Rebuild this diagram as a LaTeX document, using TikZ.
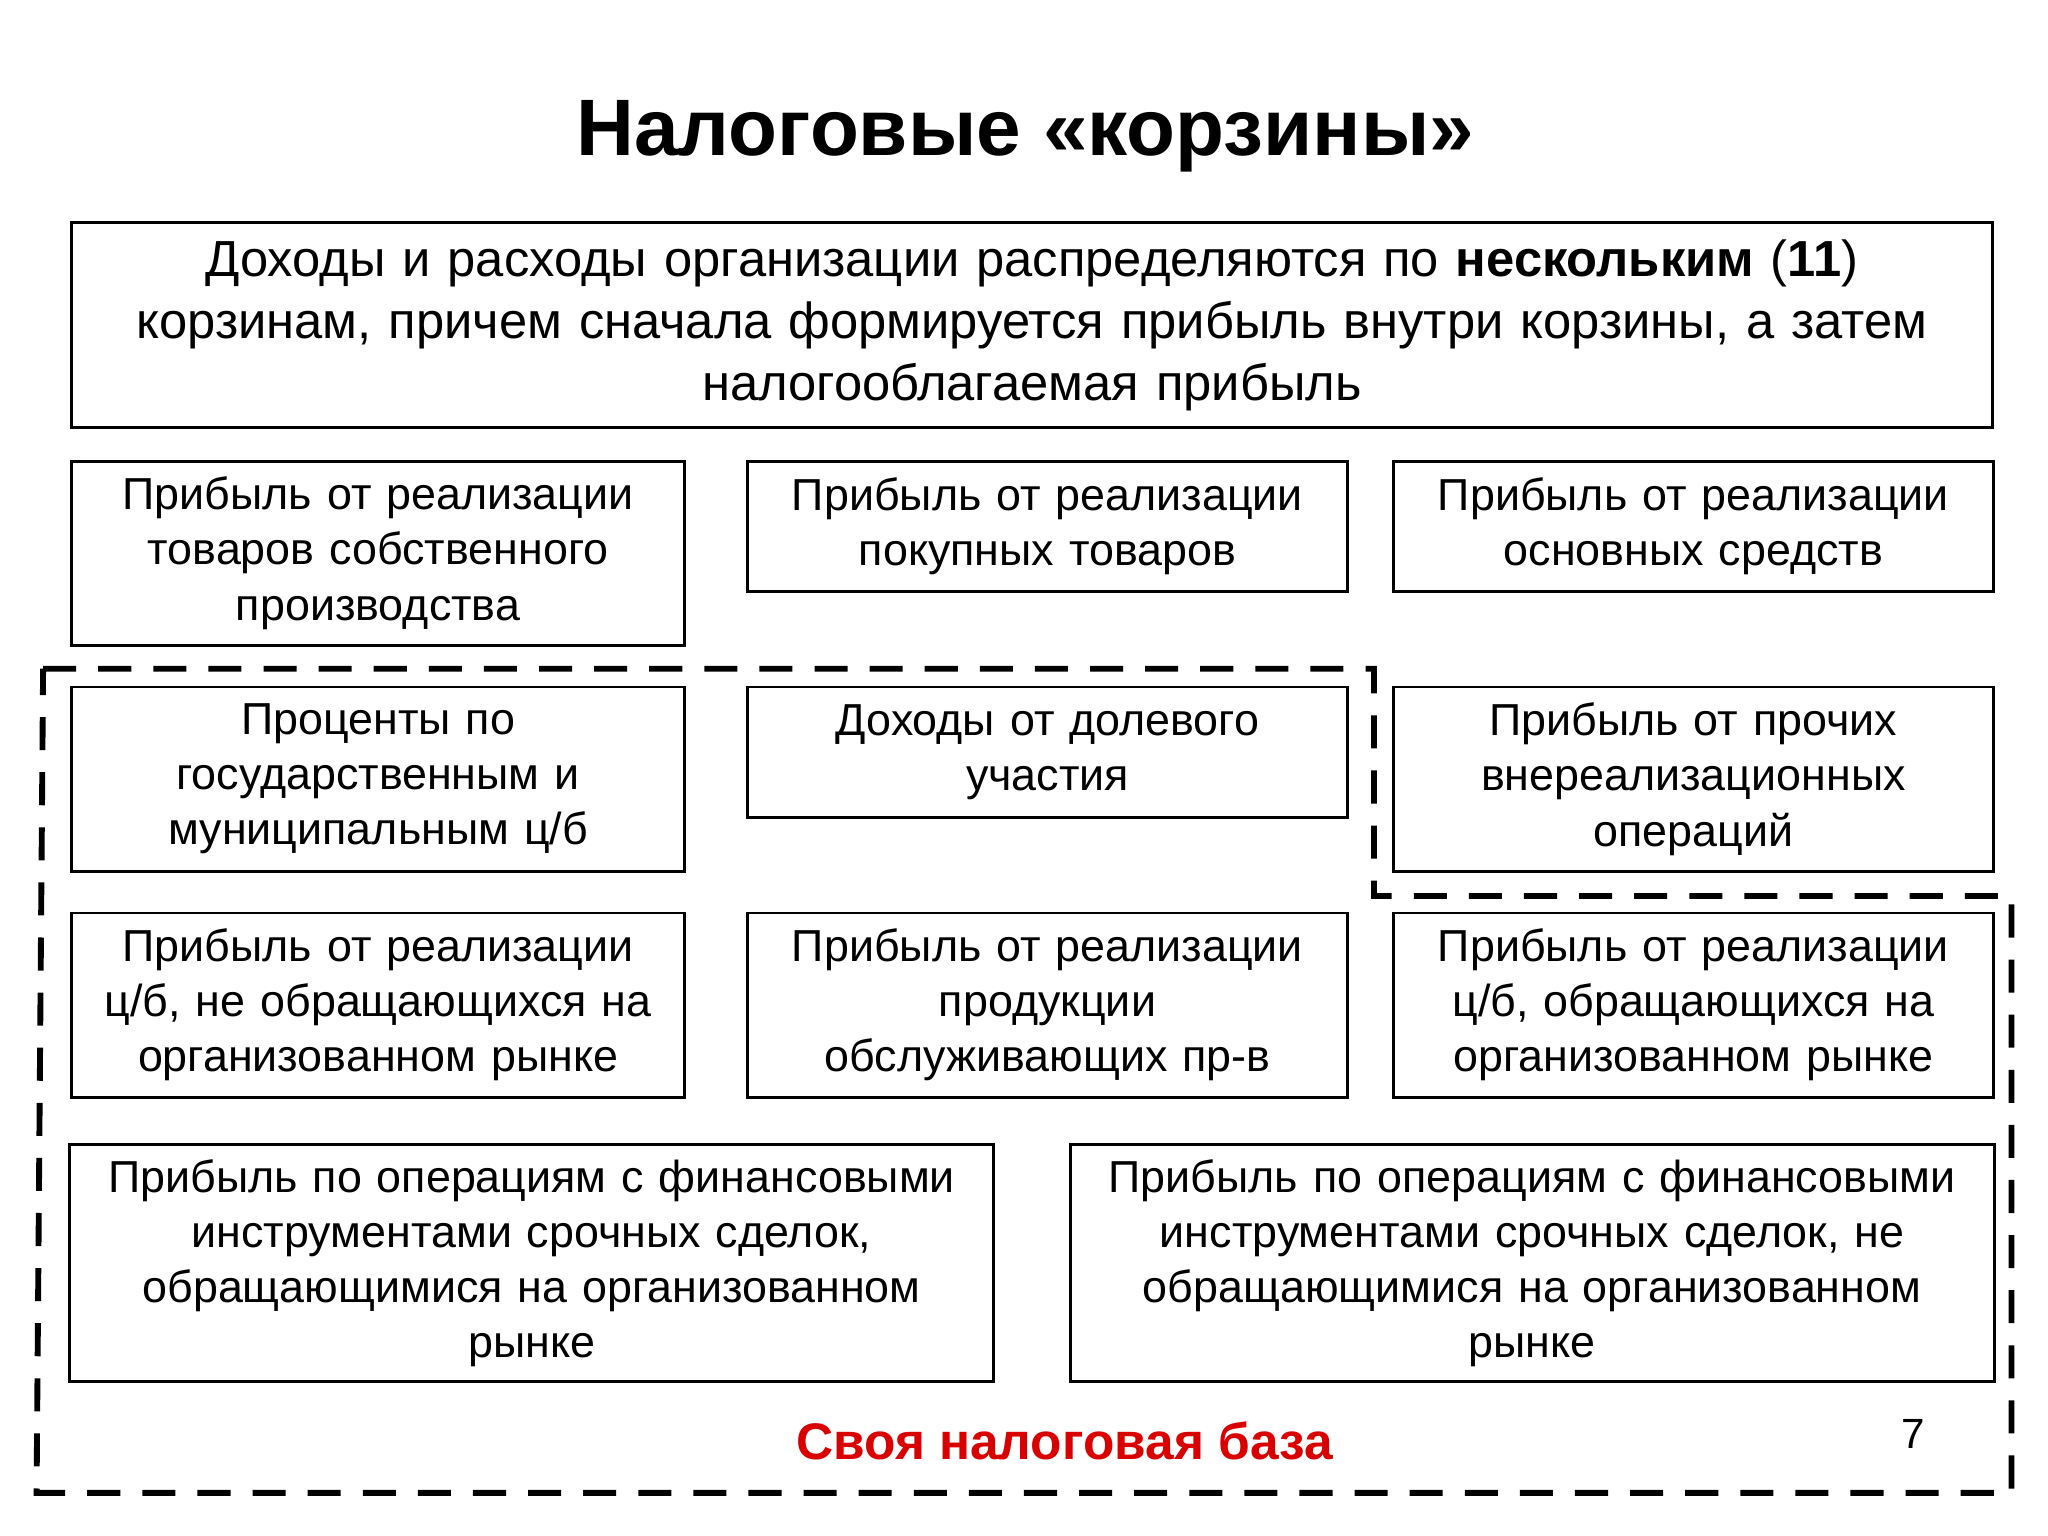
\documentclass[tikz,border=0pt]{standalone}
\usepackage{fontspec}
\setmainfont{Liberation Sans}
\begin{document}
\begin{tikzpicture}[x=0.0125cm,y=-0.0125cm,
  box/.style={draw,line width=0.8pt,align=center,inner sep=2pt,font=\fontsize{12.2}{15}\selectfont},
  ]
\useasboundingbox (0,0) rectangle (1568,1176);
\node[font=\fontsize{21.8}{25}\selectfont\bfseries] (title) at (785,104) {Налоговые «корзины»};
\node[box,minimum width=18.375cm,minimum height=1.9625cm,text width=18.2cm,font=\fontsize{13.8}{16.8}\selectfont] (top) at (790,249)
 {Доходы и расходы организации распределяются по \textbf{нескольким} (\textbf{11})\\корзинам, причем сначала формируется прибыль внутри корзины, а затем\\налогооблагаемая прибыль};
\node[box,minimum width=5.8625cm,minimum height=1.7625cm,text width=5.7cm] (a) at (289.5,423.5) {Прибыль от реализации\\товаров собственного\\производства};
\node[box,minimum width=5.7cm,minimum height=1.25cm,text width=5.6cm] (b) at (802,403) {Прибыль от реализации\\покупных товаров};
\node[box,minimum width=5.7125cm,minimum height=1.25cm,text width=5.6cm] (c) at (1296.5,403) {Прибыль от реализации\\основных средств};
\node[box,minimum width=5.8625cm,minimum height=1.7625cm,text width=5.7cm] (d) at (289.5,596.5) {Проценты по\\государственным и\\муниципальным ц/б};
\node[box,minimum width=5.7cm,minimum height=1.25cm,text width=5.6cm] (e) at (802,576) {Доходы от долевого\\участия};
\node[box,minimum width=5.7125cm,minimum height=1.7625cm,text width=5.6cm] (f) at (1296.5,596.5) {Прибыль от прочих\\внереализационных\\операций};
\node[box,minimum width=5.8625cm,minimum height=1.7625cm,text width=5.7cm] (g) at (289.5,769.5) {Прибыль от реализации\\ц/б, не обращающихся на\\организованном рынке};
\node[box,minimum width=5.7cm,minimum height=1.7625cm,text width=5.6cm] (h) at (802,769.5) {Прибыль от реализации\\продукции\\обслуживающих пр-в};
\node[box,minimum width=5.7125cm,minimum height=1.7625cm,text width=5.6cm] (i) at (1296.5,769.5) {Прибыль от реализации\\ц/б, обращающихся на\\организованном рынке};
\node[box,minimum width=8.8cm,minimum height=2.275cm,text width=8.7cm] (j) at (407,967) {Прибыль по операциям с финансовыми\\инструментами срочных сделок,\\обращающимися на организованном\\рынке};
\node[box,minimum width=8.8cm,minimum height=2.275cm,text width=8.7cm] (k) at (1173,967) {Прибыль по операциям с финансовыми\\инструментами срочных сделок, не\\обращающимися на организованном\\рынке};
\draw[line width=1.6pt,dash pattern=on 9pt off 6pt] (33,512) -- (1052,512) -- (1052,686) -- (1540,686) -- (1540,1143) -- (28,1143) -- cycle;
\node[text=red!85!black,font=\fontsize{14}{17}\selectfont\bfseries] (base) at (815,1103) {Своя налоговая база};
\node[font=\fontsize{11.5}{14}\selectfont] (num) at (1465,1098) {7};
\end{tikzpicture}
\end{document}
